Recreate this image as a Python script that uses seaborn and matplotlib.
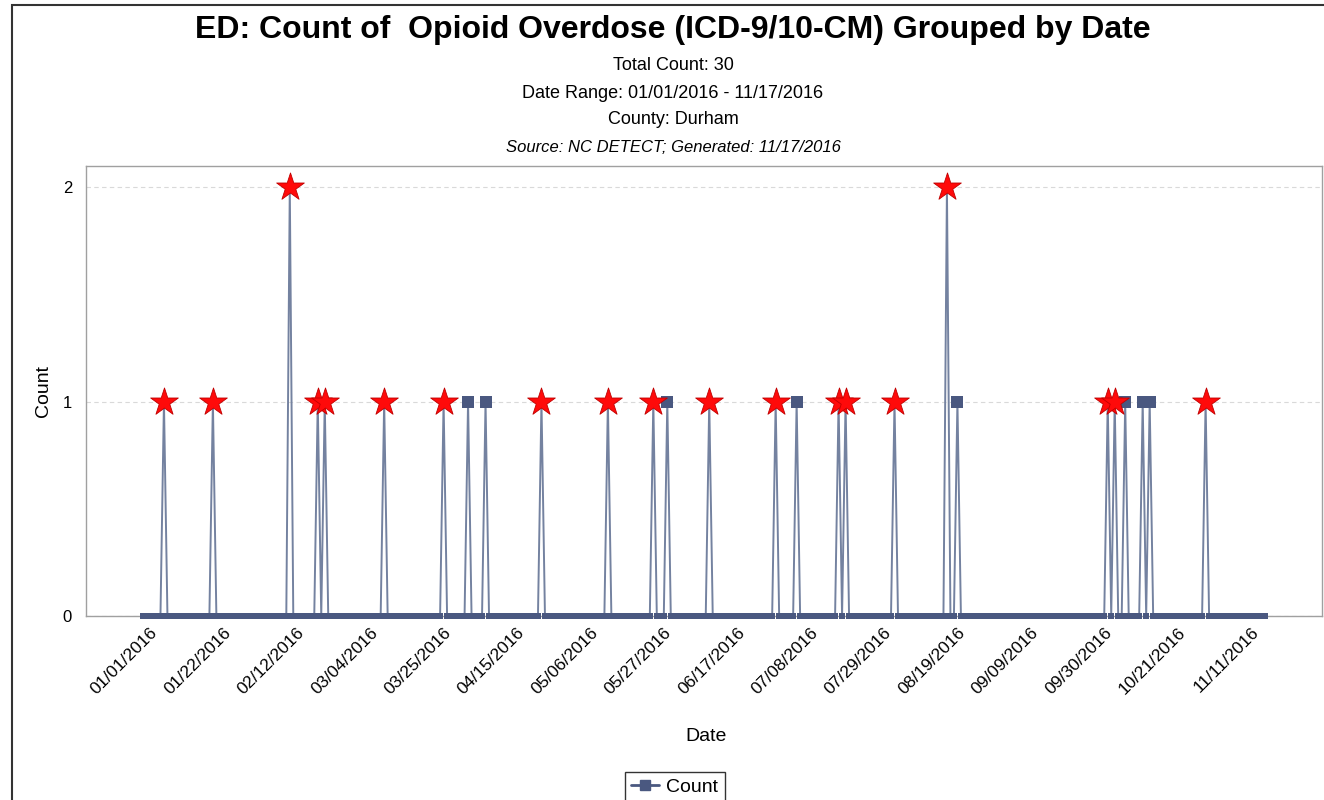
import numpy as np
import pandas as pd
import matplotlib
matplotlib.use("Agg")
import matplotlib.pyplot as plt
import matplotlib.transforms as mtrans
from matplotlib.lines import Line2D
from matplotlib.patches import Rectangle
import seaborn as sns

# ── Data ───────────────────────────────────────────────────────────────────────
START_DATE = "2016-01-01"
END_DATE = "2016-11-17"

# days (offset from 01/01/2016) with a non-zero count, and the count on that day
event_days = [6, 20, 42, 50, 52, 69, 86, 93, 98, 114, 133, 146, 150, 162,
              181, 187, 199, 201, 215, 230, 233, 276, 278, 281, 286, 288, 304]
event_counts = [1, 1, 2, 1, 1, 1, 1, 1, 1, 1, 1, 1, 1, 1,
                1, 1, 1, 1, 1, 2, 1, 1, 1, 1, 1, 1, 1]
# days flagged with a red star
flag_days = [6, 20, 42, 50, 52, 69, 86, 114, 133, 146, 162, 181, 199, 201,
             215, 230, 276, 278, 304]

TITLE = "ED: Count of  Opioid Overdose (ICD-9/10-CM) Grouped by Date"
SUBTITLES = ["Total Count: 30",
             "Date Range: 01/01/2016 - 11/17/2016",
             "County: Durham"]
SOURCE = "Source: NC DETECT; Generated: 11/17/2016"
TICK_STEP = 21

# ── Style ──────────────────────────────────────────────────────────────────────
LINE_COLOR = "#7482a0"
MARKER_COLOR = "#4a5880"
STAR_COLOR = "#ff0a0a"
GRID_COLOR = "#d9d9d9"
SPINE_COLOR = "#a0a0a0"

sns.set_style("white")
plt.rcParams["font.family"] = ["Liberation Sans", "DejaVu Sans"]
plt.rcParams.update({
    "text.color": "black",
    "axes.labelcolor": "black",
    "xtick.labelcolor": "black",
    "ytick.labelcolor": "black",
})

dates = pd.date_range(START_DATE, END_DATE, freq="D")
df = pd.DataFrame({"day": np.arange(len(dates)), "count": 0})
df.loc[event_days, "count"] = event_counts
df["flag"] = df["day"].isin(flag_days)

W, H = 1324, 800
fig = plt.figure(figsize=(W / 100, H / 100), dpi=100)
ax = fig.add_axes([86 / W, 1 - 616 / H, (1322 - 86) / W, (616 - 166) / H])

sns.lineplot(data=df, x="day", y="count", color=LINE_COLOR, lw=1.4,
             errorbar=None, ax=ax, zorder=3)

zeros = df[df["count"] == 0]
plain = df[(df["count"] > 0) & ~df["flag"]]
flagged = df[df["flag"]]
sns.scatterplot(data=zeros, x="day", y="count", marker="s", s=22,
                color=MARKER_COLOR, edgecolor="none", ax=ax, zorder=4,
                clip_on=False, legend=False)
sns.scatterplot(data=plain, x="day", y="count", marker="s", s=75,
                color=MARKER_COLOR, edgecolor="none", ax=ax, zorder=5,
                legend=False)
sns.scatterplot(data=flagged, x="day", y="count", marker="*", s=440,
                color=STAR_COLOR, edgecolor="#c00000", linewidth=0.6, ax=ax,
                zorder=6, clip_on=False, legend=False)

ax.set_xlim(-16.3, 337.3)
ax.set_ylim(0, 2.1)
ax.set_yticks([0, 1, 2])
ax.set_yticklabels(["0", "1", "2"], fontsize=12)
ax.yaxis.grid(True, ls=(0, (4, 3)), color=GRID_COLOR, lw=0.8)
ax.xaxis.grid(False)

ticks = df["day"].values[::TICK_STEP]
ax.set_xticks(ticks)
ax.set_xticklabels(dates[::TICK_STEP].strftime("%m/%d/%Y"), rotation=45,
                   ha="right", va="center", rotation_mode="anchor",
                   fontsize=12.5)
ax.set_xticks(df["day"].values, minor=True)
ax.tick_params(axis="x", which="major", length=4, color=LINE_COLOR, pad=6)
ax.tick_params(axis="x", which="minor", length=3, color=LINE_COLOR, width=0.7)
ax.tick_params(axis="y", length=5, color=SPINE_COLOR, pad=5)
offset = mtrans.ScaledTranslation(12 / 100, 0, fig.dpi_scale_trans)
for lab in ax.get_xticklabels():
    lab.set_transform(lab.get_transform() + offset)

for s in ax.spines.values():
    s.set_color(SPINE_COLOR)
    s.set_linewidth(1.0)

ax.set_xlabel("Date", fontsize=14)
ax.set_ylabel("Count", fontsize=14)
ax.xaxis.set_label_coords((706 - 86) / 1236, -(728 - 616) / 450)
ax.yaxis.set_label_coords(-(86 - 52) / 1236, 0.5)

# ── Titles ─────────────────────────────────────────────────────────────────────
cx = 673 / W
fig.text(cx, 1 - 30 / H, TITLE, ha="center", va="center",
         fontsize=23, fontweight="bold")
for i, line in enumerate(SUBTITLES):
    fig.text(cx, 1 - (66 + 27 * i) / H, line, ha="center", va="center",
             fontsize=13)
fig.text(cx, 1 - 147 / H, SOURCE, ha="center", va="center",
         fontsize=12, style="italic")

handle = Line2D([], [], color=MARKER_COLOR, marker="s", markersize=7, lw=2)
leg = fig.legend(handles=[handle], labels=["Count"], loc="upper center",
                 bbox_to_anchor=(675 / W, 1 - 762 / H), frameon=True,
                 fancybox=False, fontsize=14, handlelength=1.4,
                 borderpad=0.35, handletextpad=0.4)
leg.get_frame().set_edgecolor("black")
leg.get_frame().set_linewidth(1.0)

# outer frame (left / top edges only visible)
fig.patches.append(Rectangle((12 / W, -0.1), 1.2, 1.1 - 5 / H,
                             transform=fig.transFigure, fill=False,
                             edgecolor="#333333", lw=1.5))

fig.savefig("out.png", dpi=100)
